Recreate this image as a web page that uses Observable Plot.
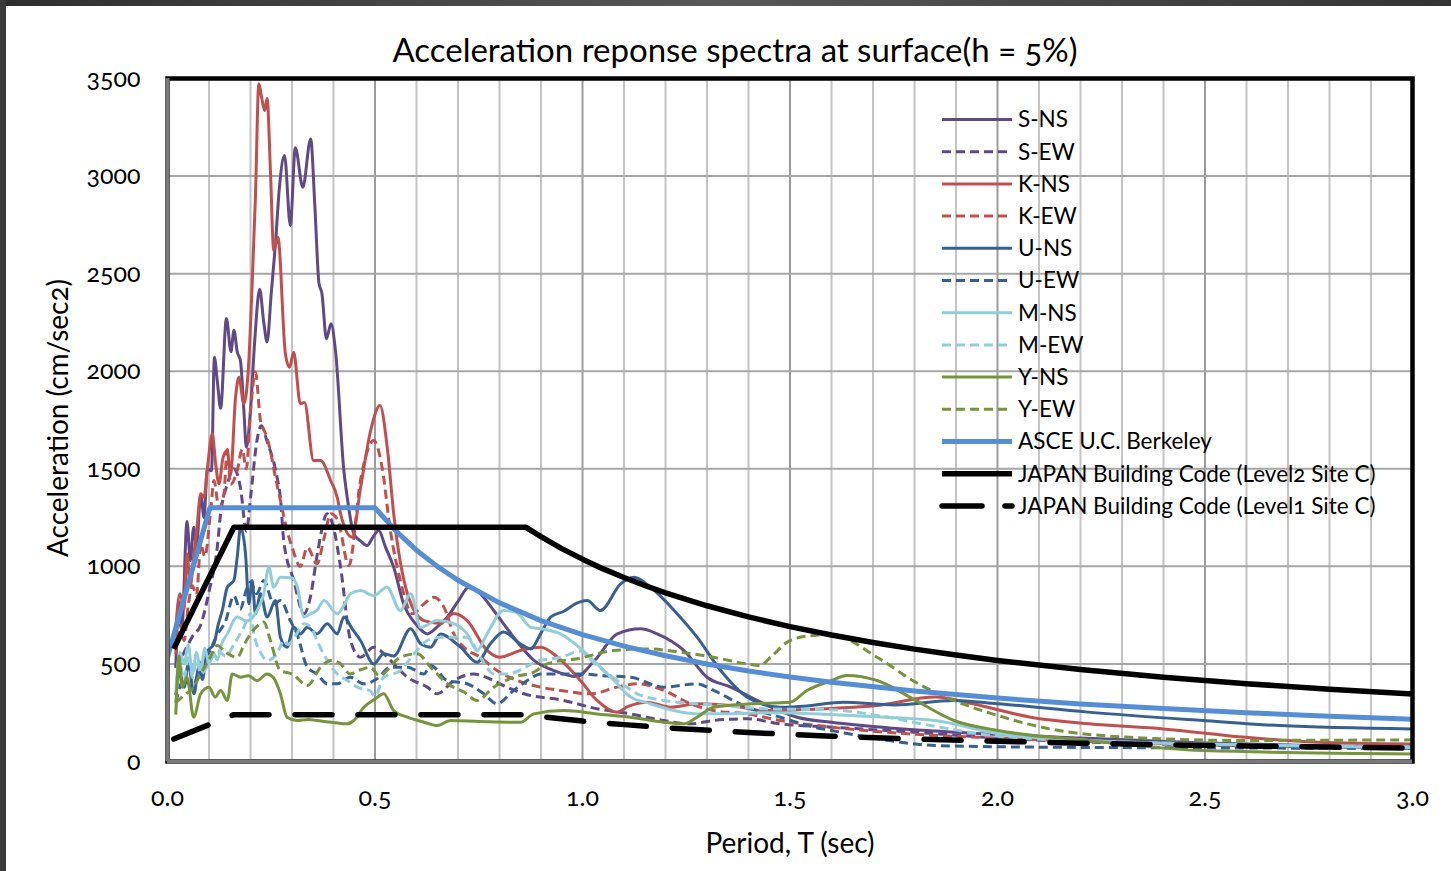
<!DOCTYPE html>
<html><head><meta charset="utf-8">
<script src="https://cdn.jsdelivr.net/npm/d3@7"></script>
<script src="https://cdn.jsdelivr.net/npm/@observablehq/plot@0.6"></script>
<style>
html,body{margin:0;padding:0;background:#fff;}
#wrap{position:relative;width:1451px;height:871px;overflow:hidden;background:#fff;font-family:Lato,"Open Sans",sans-serif;color:#000;font-variant-numeric:oldstyle-nums;font-feature-settings:"onum" 1;}
#wrap svg text{font-variant-numeric:oldstyle-nums;font-feature-settings:"onum" 1;}
#ftop{position:absolute;left:0;top:0;width:1451px;height:6px;background:linear-gradient(to right,#2e2e2e,#585858 50%,#333);z-index:5}
#fleft{position:absolute;left:0;top:0;width:6px;height:871px;background:#3a3a3a;z-index:5}
#chart{position:absolute;left:0;top:0;}
#legend{position:absolute;left:0;top:0;}
#title{position:absolute;left:0;top:33px;width:1470px;text-align:center;font-size:33px;line-height:1;}
#ylab{position:absolute;left:-143px;top:404px;width:400px;height:28px;line-height:28px;text-align:center;font-size:28px;transform:rotate(-90deg);}
#xlab{position:absolute;left:590px;top:828px;width:400px;height:28px;line-height:28px;text-align:center;font-size:28px;}
</style></head>
<body>
<div id="wrap">
  <div id="chart"></div>
  <svg id="legend" width="1451" height="871"></svg>
  <div id="title">Acceleration reponse spectra at surface(h = 5%)</div>
  <div id="ylab">Acceleration (cm/sec2)</div>
  <div id="xlab">Period, T (sec)</div>
  <div id="ftop"></div><div id="fleft"></div>
</div>
<script>
// ---------- tick / grid values ----------
const xTicks = [0, 0.5, 1.0, 1.5, 2.0, 2.5, 3.0];
const yTicks = [0, 500, 1000, 1500, 2000, 2500, 3000, 3500];
const gridMinorT = [0.1,0.2,0.3,0.4,0.6,0.7,0.8,0.9,1.1,1.2,1.3,1.4,1.6,1.7,1.8,1.9,2.1,2.2,2.3,2.4,2.6,2.7,2.8,2.9];
const gridMajorT = [0.5, 1.0, 1.5, 2.0, 2.5];
const gridA = [500, 1000, 1500, 2000, 2500, 3000];

// ---------- series data: [period T (sec), acceleration (cm/sec2)] ----------
const S_NS = [[0.02,480],[0.027,820],[0.035,700],[0.047,1230],[0.055,1030],[0.063,1200],[0.07,1100],[0.08,1370],[0.088,1250],[0.096,1500],[0.106,1490],[0.113,2072],[0.12,1950],[0.128,1810],[0.142,2270],[0.153,2100],[0.16,2210],[0.168,2100],[0.176,2050],[0.184,1800],[0.19,1610],[0.2,1800],[0.21,2150],[0.222,2420],[0.232,2250],[0.24,2150],[0.25,2400],[0.26,2650],[0.27,2950],[0.282,3105],[0.296,2747],[0.308,3145],[0.326,2943],[0.345,3190],[0.355,2850],[0.365,2450],[0.372,2400],[0.383,2166],[0.394,2243],[0.405,2100],[0.425,1490],[0.433,1354],[0.449,1167],[0.465,1130],[0.481,1107],[0.495,1150],[0.509,1184],[0.525,1100],[0.545,996],[0.569,808],[0.6,700],[0.626,654],[0.65,690],[0.674,740],[0.7,820],[0.726,893],[0.754,859],[0.786,774],[0.834,637],[0.883,518],[0.931,466],[0.985,435],[1.03,520],[1.084,654],[1.14,680],[1.18,654],[1.244,569],[1.3,432],[1.357,381],[1.437,296],[1.517,227],[1.6,201],[1.75,170],[1.94,145],[2.2,120],[2.5,95],[2.8,80],[3.0,75]];
const S_EW = [[0.02,480],[0.04,560],[0.06,640],[0.08,700],[0.1,870],[0.12,1100],[0.128,1270],[0.144,1420],[0.16,1500],[0.176,1400],[0.19,1180],[0.2,1350],[0.216,1650],[0.226,1720],[0.24,1640],[0.264,1457],[0.272,1354],[0.28,1133],[0.304,928],[0.329,757],[0.345,850],[0.36,1050],[0.385,1269],[0.4,1200],[0.417,996],[0.441,620],[0.465,534],[0.497,586],[0.537,518],[0.578,432],[0.626,381],[0.65,347],[0.69,415],[0.738,449],[0.757,440],[0.818,381],[0.859,347],[0.955,313],[1.035,270],[1.116,244],[1.196,210],[1.26,193],[1.316,210],[1.397,219],[1.477,193],[1.6,176],[1.8,150],[2.0,120],[2.5,85],[3.0,70]];
const K_NS = [[0.02,690],[0.03,860],[0.04,780],[0.047,1064],[0.055,900],[0.063,1050],[0.071,1200],[0.08,1372],[0.088,1354],[0.096,1500],[0.108,1679],[0.116,1525],[0.124,1423],[0.134,1560],[0.144,1594],[0.152,1474],[0.164,1867],[0.172,1969],[0.184,1833],[0.196,2055],[0.204,2448],[0.212,2900],[0.22,3473],[0.227,3400],[0.234,3336],[0.24,3398],[0.248,3029],[0.256,2619],[0.266,2687],[0.284,2090],[0.294,2020],[0.304,2097],[0.32,1834],[0.33,1840],[0.352,1542],[0.369,1542],[0.393,1440],[0.409,1354],[0.417,1270],[0.445,1149],[0.465,1400],[0.49,1700],[0.512,1824],[0.53,1600],[0.545,1270],[0.578,861],[0.618,722],[0.658,707],[0.69,758],[0.722,722],[0.77,569],[0.8,534],[0.85,569],[0.9,586],[0.94,534],[0.995,415],[1.035,313],[1.083,253],[1.11,282],[1.156,304],[1.212,278],[1.276,296],[1.357,287],[1.437,261],[1.52,265],[1.6,272],[1.71,287],[1.85,330],[1.94,296],[2.08,227],[2.22,193],[2.4,167],[2.59,125],[2.77,99],[3.0,90]];
const K_EW = [[0.02,550],[0.03,700],[0.04,620],[0.05,800],[0.06,900],[0.07,850],[0.08,1115],[0.09,1050],[0.104,1286],[0.112,1440],[0.124,1300],[0.136,1372],[0.144,1600],[0.152,1420],[0.168,1491],[0.18,1600],[0.19,1500],[0.2,1800],[0.212,1995],[0.224,1747],[0.236,1681],[0.244,1628],[0.26,1457],[0.272,1340],[0.288,1184],[0.3,1100],[0.32,1000],[0.337,1098],[0.36,1013],[0.378,1150],[0.393,1269],[0.41,1240],[0.437,1004],[0.465,1440],[0.497,1645],[0.517,1508],[0.537,1184],[0.561,928],[0.59,757],[0.618,808],[0.642,842],[0.666,791],[0.69,654],[0.714,586],[0.754,534],[0.794,466],[0.843,415],[0.899,381],[0.947,364],[1.019,347],[1.084,381],[1.132,398],[1.196,364],[1.26,296],[1.316,261],[1.397,244],[1.477,210],[1.6,176],[1.8,140],[2.0,120],[2.5,85],[3.0,70]];
const U_NS = [[0.02,340],[0.03,450],[0.04,380],[0.05,500],[0.064,347],[0.075,480],[0.084,420],[0.095,560],[0.112,603],[0.122,700],[0.132,774],[0.144,893],[0.16,928],[0.168,1047],[0.176,1200],[0.188,1064],[0.196,808],[0.204,928],[0.212,757],[0.224,859],[0.24,740],[0.26,825],[0.272,637],[0.288,586],[0.304,688],[0.32,654],[0.337,688],[0.36,654],[0.385,706],[0.409,654],[0.425,740],[0.445,680],[0.465,620],[0.497,500],[0.521,552],[0.545,540],[0.586,680],[0.61,603],[0.634,586],[0.658,654],[0.706,586],[0.746,509],[0.778,603],[0.81,663],[0.85,603],[0.875,577],[0.899,654],[0.923,740],[0.955,770],[0.985,810],[1.011,825],[1.043,774],[1.092,910],[1.124,944],[1.164,893],[1.228,757],[1.276,637],[1.333,466],[1.397,330],[1.477,278],[1.54,285],[1.6,300],[1.628,304],[1.75,290],[1.895,313],[2.0,296],[2.218,253],[2.495,210],[2.68,184],[3.0,167]];
const U_EW = [[0.02,300],[0.04,420],[0.06,380],[0.08,500],[0.1,560],[0.12,650],[0.14,720],[0.16,850],[0.175,780],[0.19,880],[0.2,920],[0.215,860],[0.232,928],[0.256,808],[0.272,825],[0.296,722],[0.312,654],[0.337,483],[0.36,449],[0.385,398],[0.409,398],[0.44,432],[0.473,398],[0.505,424],[0.537,483],[0.578,483],[0.618,449],[0.634,492],[0.674,415],[0.72,400],[0.762,347],[0.794,296],[0.834,364],[0.867,415],[0.899,449],[0.995,449],[1.05,440],[1.12,430],[1.196,381],[1.276,398],[1.316,364],[1.397,278],[1.477,227],[1.557,176],[1.6,159],[1.7,120],[1.85,82],[2.13,73],[2.5,70],[3.0,66]];
const M_NS = [[0.02,350],[0.03,560],[0.04,500],[0.05,600],[0.06,450],[0.07,560],[0.08,470],[0.09,580],[0.1,500],[0.11,560],[0.12,520],[0.13,600],[0.144,654],[0.168,740],[0.19,720],[0.216,774],[0.232,859],[0.244,996],[0.256,893],[0.272,944],[0.3,940],[0.312,900],[0.329,740],[0.345,757],[0.36,774],[0.377,825],[0.409,757],[0.425,800],[0.441,859],[0.465,876],[0.497,850],[0.529,893],[0.561,774],[0.586,859],[0.61,688],[0.65,722],[0.69,706],[0.722,654],[0.746,569],[0.77,654],[0.81,774],[0.84,765],[0.875,688],[0.899,680],[0.947,654],[0.995,580],[1.035,500],[1.076,415],[1.116,330],[1.164,296],[1.22,261],[1.276,244],[1.35,245],[1.45,250],[1.57,244],[1.7,230],[1.85,210],[2.0,143],[2.218,108],[2.5,90],[3.0,70]];
const M_EW = [[0.02,300],[0.03,500],[0.04,420],[0.05,550],[0.06,430],[0.07,520],[0.08,450],[0.1,500],[0.12,569],[0.14,540],[0.16,600],[0.184,688],[0.2,757],[0.208,654],[0.224,560],[0.24,518],[0.264,552],[0.28,620],[0.29,600],[0.31,650],[0.329,706],[0.345,690],[0.36,620],[0.385,518],[0.409,449],[0.433,415],[0.457,381],[0.489,360],[0.5,335],[0.521,432],[0.561,466],[0.594,552],[0.626,620],[0.658,637],[0.722,637],[0.754,534],[0.786,449],[0.818,449],[0.899,518],[0.947,534],[0.995,565],[1.03,500],[1.084,415],[1.132,347],[1.196,313],[1.276,296],[1.35,285],[1.437,270],[1.6,265],[1.7,240],[1.85,180],[2.0,130],[2.3,100],[2.6,85],[3.0,75]];
const Y_NS = [[0.02,240],[0.028,540],[0.035,380],[0.047,432],[0.063,227],[0.08,347],[0.1,380],[0.115,330],[0.128,364],[0.144,313],[0.156,449],[0.176,432],[0.195,440],[0.216,415],[0.24,449],[0.255,430],[0.272,347],[0.288,227],[0.312,210],[0.34,215],[0.36,210],[0.4,200],[0.433,193],[0.449,210],[0.473,278],[0.5,320],[0.521,347],[0.545,261],[0.578,227],[0.62,200],[0.65,184],[0.682,210],[0.75,205],[0.85,201],[0.883,244],[0.955,261],[1.035,244],[1.116,227],[1.196,201],[1.244,193],[1.276,227],[1.316,278],[1.4,295],[1.5,304],[1.541,364],[1.6,415],[1.637,441],[1.71,415],[1.803,313],[1.895,210],[2.0,159],[2.218,108],[2.495,56],[3.0,39]];
const Y_EW = [[0.02,300],[0.04,340],[0.063,381],[0.08,450],[0.1,520],[0.12,595],[0.14,560],[0.168,534],[0.185,600],[0.2,654],[0.224,706],[0.232,715],[0.248,620],[0.272,466],[0.3,449],[0.337,390],[0.369,483],[0.393,518],[0.415,505],[0.44,449],[0.465,470],[0.489,483],[0.51,440],[0.561,534],[0.602,552],[0.634,483],[0.674,400],[0.714,356],[0.746,313],[0.786,381],[0.834,432],[0.883,458],[0.915,500],[0.995,530],[1.076,569],[1.156,577],[1.236,560],[1.316,534],[1.397,500],[1.429,492],[1.453,534],[1.5,620],[1.557,646],[1.6,650],[1.71,534],[1.803,406],[1.895,313],[2.0,236],[2.126,167],[2.31,125],[2.587,108],[3.0,111]];
const ASCE = [[0.0,534],[0.102,1300],[0.5,1300],[0.55,1182],[0.6,1083],[0.65,1000],[0.7,929],[0.8,813],[0.9,722],[1.0,650],[1.1,591],[1.2,542],[1.3,500],[1.4,464],[1.5,433],[1.6,406],[1.8,361],[2.0,325],[2.2,295],[2.4,271],[2.6,250],[2.8,232],[3.0,217]];
const JAPAN_L2 = [[0.015,577],[0.16,1200],[0.864,1200],[0.9,1152],[0.95,1091],[1.0,1037],[1.05,987],[1.1,943],[1.15,902],[1.2,864],[1.3,798],[1.4,741],[1.5,691],[1.6,648],[1.7,610],[1.8,576],[1.9,546],[2.0,518],[2.2,471],[2.4,432],[2.6,399],[2.8,370],[3.0,346]];
const JAPAN_L1 = [[0.015,115],[0.16,240],[0.864,240],[0.9,230],[1.0,207],[1.1,189],[1.2,173],[1.4,148],[1.6,130],[1.8,115],[2.0,104],[2.2,94],[2.4,86],[2.6,80],[2.8,74],[3.0,69]];

const seriesNames = ["S-NS","S-EW","K-NS","K-EW","U-NS","U-EW","M-NS","M-EW","Y-NS","Y-EW","ASCE U.C. Berkeley","JAPAN Building Code (Level2 Site C)","JAPAN Building Code (Level1 Site C)"];
const seriesValues = [S_NS,S_EW,K_NS,K_EW,U_NS,U_EW,M_NS,M_EW,Y_NS,Y_EW,ASCE,JAPAN_L2,JAPAN_L1];

// ---------- styles ----------
const styles = [
  {stroke:"#5F4A86", width:3, dash:null},
  {stroke:"#5F4A86", width:3, dash:"9,5"},
  {stroke:"#C0504D", width:3, dash:null},
  {stroke:"#C0504D", width:3, dash:"9,5"},
  {stroke:"#366092", width:3, dash:null},
  {stroke:"#366092", width:3, dash:"9,5"},
  {stroke:"#92CDDC", width:3, dash:null},
  {stroke:"#92CDDC", width:3, dash:"9,5"},
  {stroke:"#77933C", width:3, dash:null},
  {stroke:"#77933C", width:3, dash:"9,5"},
  {stroke:"#558ED5", width:5, dash:null, linear:true},
  {stroke:"#000000", width:5.5, dash:null, linear:true},
  {stroke:"#000000", width:5.5, dash:"37,26", round:true, linear:true}
];

const tables = seriesValues.map((vals, i) => vals.map(([T, A]) => ({series: seriesNames[i], T, A})));

const lineMarks = tables.map((tbl, i) => {
  const s = styles[i];
  const o = {x:"T", y:"A", stroke:s.stroke, strokeWidth:s.width,
             curve: s.linear ? "linear" : "monotone-x",
             strokeLinejoin:"round", strokeLinecap: s.round ? "round" : "butt"};
  if (s.dash) o.strokeDasharray = s.dash;
  return Plot.line(tbl, o);
});

const chart = Plot.plot({
  width: 1451, height: 871,
  marginTop: 78, marginBottom: 110, marginLeft: 167, marginRight: 39,
  x: {domain:[0,3]},
  y: {domain:[0,3500]},
  style: {fontFamily:"Lato, 'Open Sans', sans-serif", fontSize:"25px", color:"#000", background:"transparent", overflow:"visible"},
  marks: [
    Plot.ruleX(gridMinorT, {stroke:"#c4c4c4", strokeWidth:2}),
    Plot.ruleX(gridMajorT, {stroke:"#9a9a9a", strokeWidth:2}),
    Plot.ruleY(gridA, {stroke:"#a6a6a6", strokeWidth:2}),
    ...lineMarks,
    Plot.frame({stroke:"#000", strokeWidth:4.5}),
    Plot.ruleX([0], {stroke:"#7a7a7a", strokeWidth:4}),
    Plot.ruleY([0], {stroke:"#7a7a7a", strokeWidth:4}),
    Plot.axisX({ticks:xTicks, tickSize:0, tickPadding:27, tickFormat:d3.format(".1f"), label:null, fontSize:25}),
    Plot.axisY({ticks:yTicks, tickSize:0, tickPadding:27, tickFormat:d3.format("d"), label:null, fontSize:25})
  ]
});
document.getElementById("chart").appendChild(chart);

// ---------- legend ----------
const leg = d3.select("#legend");
const rowY0 = 119.5, rowStep = 32.2;
seriesNames.forEach((name, i) => {
  const s = styles[i];
  const y = rowY0 + i*rowStep;
  const ln = leg.append("line").attr("x1",942).attr("x2",1012).attr("y1",y).attr("y2",y)
    .attr("stroke",s.stroke).attr("stroke-width", s.width)
    .attr("stroke-linecap", s.round ? "round" : "butt");
  if (s.dash) ln.attr("stroke-dasharray", s.round ? "40,23" : "9,5");
  leg.append("text").attr("x",1018).attr("y",y).attr("dy","0.35em")
    .attr("font-family","Lato, 'Open Sans', sans-serif").attr("font-size",22.5).attr("fill","#000")
    .text(name);
});
</script>
</body></html>
